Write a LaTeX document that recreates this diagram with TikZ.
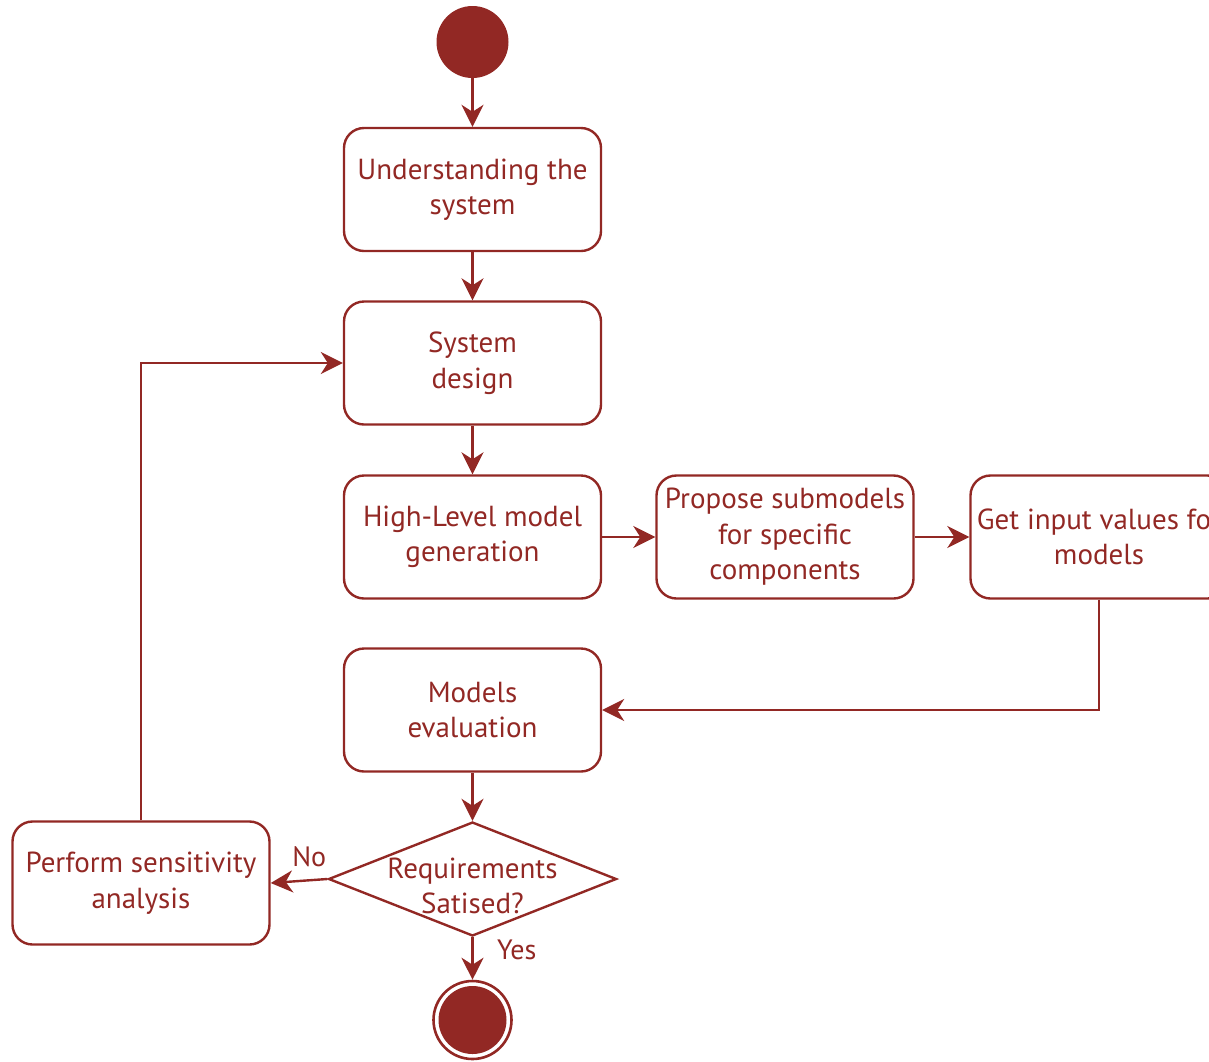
\documentclass[tikz,border=0pt]{standalone}
\usepackage{fontspec}
\setmainfont{PT Sans}
\usetikzlibrary{arrows.meta,shapes.geometric}
\definecolor{wine}{RGB}{146,40,36}
\begin{document}
\begin{tikzpicture}[x=1pt,y=-1pt,
  every node/.style={font=\fontsize{29}{35.5}\selectfont, text=wine},
  activity/.style={draw=wine, line width=2.4pt, rounded corners=20pt,
    minimum width=257pt, minimum height=123pt, inner sep=0pt, align=center},
  decision/.style={draw=wine, line width=2.4pt, diamond,
    minimum width=288pt, minimum height=114pt, inner sep=0pt},
  flow/.style={draw=wine, line width=2.4pt,
    -{Stealth[length=22pt,width=22pt,inset=7pt]}},
  guard/.style={font=\fontsize{28}{30}\selectfont}
]
\useasboundingbox (0,0) rectangle (1209,1061);
\clip (0,0) rectangle (1209,1061);

% initial and final states
\node[circle, fill=wine, minimum size=72pt, inner sep=0pt] (start) at (472.5,42) {};
\node[circle, draw=wine, line width=2.6pt, minimum size=78pt, inner sep=0pt] (final) at (472.5,1020) {};
\fill[wine] (final.center) circle (34pt);

% activities
\node[activity] (understand) at (472.5,189.5) {Understanding the\\system};
\node[activity] (design)     at (472.5,363)   {System\\design};
\node[activity] (highlevel)  at (472.5,537)   {High-Level model\\generation};
\node[activity] (submodels)  at (785,537)     {Propose submodels\\for specific\\components};
\node[activity] (inputs)     at (1099,537)    {Get input values for\\models};
\node[activity] (evaluate)   at (472.5,710)   {Models\\evaluation};
\node[activity] (sensitivity) at (141,883)    {Perform sensitivity\\analysis};

% decision
\node[decision, label={[align=center, yshift=-7pt]center:Requirements\\Satised?}] (check) at (472.5,879) {};

% control flow
\draw[flow] (start) -- (understand);
\draw[flow] (understand) -- (design);
\draw[flow] (design) -- (highlevel);
\draw[flow] (highlevel) -- (submodels);
\draw[flow] (submodels) -- (inputs);
\draw[flow] (inputs.south) |- (evaluate.east);
\draw[flow] (evaluate) -- (check);
\draw[flow] (check.west) -- node[guard, above, pos=0.32, yshift=9pt] {No} (sensitivity.east);
\draw[flow] (check.south) -- node[guard, right, pos=0.3, xshift=20pt] {Yes} (final.north);
\draw[flow] (sensitivity.north) |- (design.west);
\end{tikzpicture}
\end{document}
